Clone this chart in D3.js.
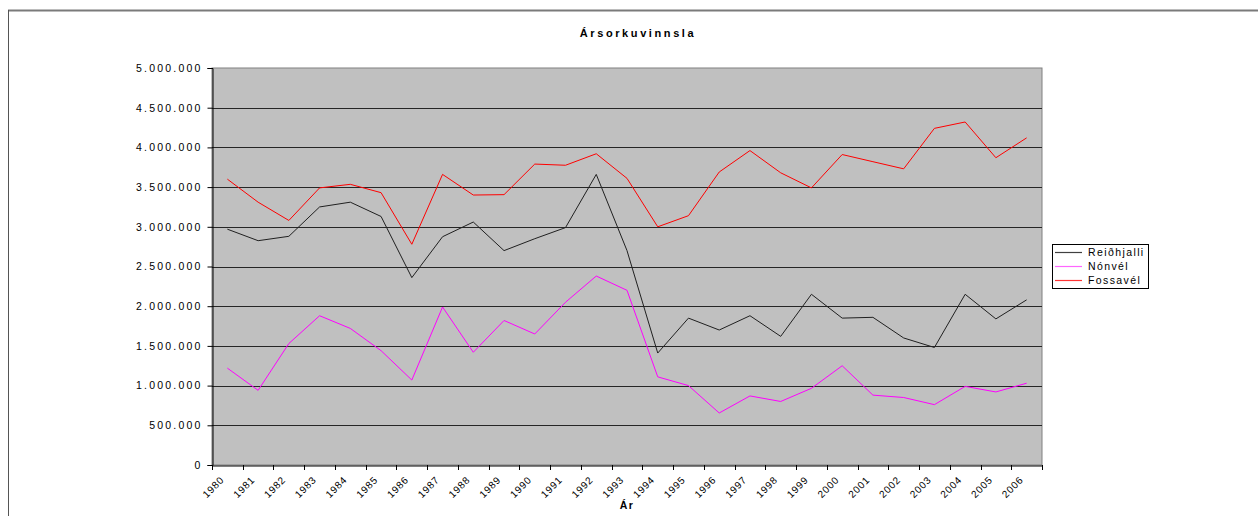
<!DOCTYPE html>
<html>
<head>
<meta charset="utf-8">
<script src="https://cdn.jsdelivr.net/npm/d3@7"></script>
<style>
  html, body { margin: 0; padding: 0; background: #fff; }
  svg { display: block; }
  text { font-family: "Liberation Sans", Arial, sans-serif; fill: #000; }
</style>
</head>
<body>
<svg id="chart" width="1258" height="516"></svg>
<script>
const years = ["1980","1981","1982","1983","1984","1985","1986","1987","1988","1989","1990","1991","1992","1993","1994","1995","1996","1997","1998","1999","2000","2001","2002","2003","2004","2005","2006"];
const reidhjalli = [2970000,2825000,2880000,3250000,3310000,3130000,2360000,2875000,3060000,2700000,2850000,2990000,3660000,2700000,1410000,1850000,1700000,1880000,1620000,2150000,1850000,1860000,1600000,1480000,2150000,1840000,2080000];
const nonvel = [1220000,940000,1530000,1880000,1720000,1440000,1070000,1990000,1420000,1820000,1650000,2050000,2380000,2200000,1110000,1000000,655000,870000,800000,966000,1250000,880000,850000,760000,990000,920000,1030000];
const fossavel = [3600000,3310000,3080000,3490000,3535000,3430000,2780000,3660000,3400000,3405000,3790000,3775000,3920000,3610000,3000000,3140000,3690000,3960000,3680000,3490000,3910000,3820000,3730000,4240000,4320000,3870000,4120000];
const yTicks = [0,500000,1000000,1500000,2000000,2500000,3000000,3500000,4000000,4500000,5000000];
const seriesNames = ["Reiðhjalli","Nónvél","Fossavél"];
const seriesColors = ["#202020","#ff00ff","#ff0000"];
const legendColors = ["#404040","#ff66ff","#ff3333"];
const title = "Ársorkuvinnsla";
const xTitle = "Ár";

const svg = d3.select("#chart");
const L = 212, R = 1042, T = 68, B = 465;

// outer frame
svg.append("line").attr("x1", 8).attr("x2", 1258).attr("y1", 10.5).attr("y2", 10.5)
  .attr("stroke", "#7a7a7a").attr("stroke-width", 2);
svg.append("line").attr("x1", 8.5).attr("x2", 8.5).attr("y1", 10).attr("y2", 516)
  .attr("stroke", "#555").attr("stroke-width", 1);

const x = d3.scaleBand().domain(years).range([L, R]).padding(0);
const y = d3.scaleLinear().domain([0, 5000000]).range([B, T]);

// plot background
svg.append("rect").attr("x", L).attr("y", T).attr("width", R - L).attr("height", B - T)
  .attr("fill", "#c0c0c0").attr("stroke", "#808080").attr("stroke-width", 1);

// gridlines
svg.append("g").selectAll("line").data(yTicks.filter(v => v > 0 && v < 5000000)).join("line")
  .attr("x1", L).attr("x2", R)
  .attr("y1", d => Math.round(y(d)) + 0.5).attr("y2", d => Math.round(y(d)) + 0.5)
  .attr("stroke", "#262626").attr("stroke-width", 1);

// y axis
const fmt = d => d3.format(",")(d).replace(/,/g, ".");
const yAxis = d3.axisLeft(y).tickValues(yTicks).tickFormat(fmt).tickSize(5).tickPadding(7);
const gy = svg.append("g").attr("transform", `translate(${L + 0.5},0)`).call(yAxis);
gy.select(".domain").attr("stroke", "#000");
gy.selectAll(".tick line").attr("stroke", "#000");
gy.selectAll(".tick text").attr("font-size", "10.5px").attr("letter-spacing", "2.2px")
  .attr("font-family", "Liberation Sans, Arial, sans-serif").attr("fill", "#222")
  .attr("dx", "2px");

// x axis
const xAxis = d3.axisBottom(x).tickSize(0).tickFormat("");
const gx = svg.append("g").attr("transform", `translate(0,${B + 0.5})`).call(xAxis);
gx.select(".domain").attr("stroke", "#000");
gx.selectAll(".tick").remove();
// ticks at band boundaries
const bounds = years.map(d => x(d)).concat([R]);
svg.append("g").selectAll("line").data(bounds).join("line")
  .attr("x1", d => Math.round(d) + 0.5).attr("x2", d => Math.round(d) + 0.5)
  .attr("y1", B).attr("y2", B + 5).attr("stroke", "#000");
// rotated labels
svg.append("g").selectAll("text").data(years).join("text")
  .attr("transform", d => `translate(${x(d) + x.bandwidth() / 2 - 5},${B + 13}) rotate(-45)`)
  .attr("text-anchor", "end").attr("font-size", "10px").attr("letter-spacing", "0.8px")
  .attr("dy", "0.35em").attr("fill", "#222")
  .text(d => d);

// lines
const series = [reidhjalli, nonvel, fossavel];
const line = d3.line().x((d, i) => x(years[i]) + x.bandwidth() / 2).y(d => y(d));
series.forEach((s, k) => {
  svg.append("path").datum(s).attr("d", line).attr("fill", "none")
    .attr("stroke", seriesColors[k]).attr("stroke-width", 1);
});

// title
svg.append("text").attr("x", 638).attr("y", 37).attr("text-anchor", "middle")
  .attr("font-size", "11px").attr("font-weight", "bold").attr("letter-spacing", "2.6px")
  .text(title);

// x title
svg.append("text").attr("x", 627).attr("y", 509).attr("text-anchor", "middle")
  .attr("font-size", "10.5px").attr("font-weight", "bold").attr("letter-spacing", "1.5px")
  .text(xTitle);

// legend
const lg = svg.append("g");
lg.append("rect").attr("x", 1052.5).attr("y", 244.5).attr("width", 96).attr("height", 44)
  .attr("fill", "#fff").attr("stroke", "#000").attr("stroke-width", 1);
const rowsY = [252, 266, 280];
seriesNames.forEach((n, i) => {
  lg.append("line").attr("x1", 1055).attr("x2", 1082)
    .attr("y1", rowsY[i] + 0.5).attr("y2", rowsY[i] + 0.5)
    .attr("stroke", legendColors[i]).attr("stroke-width", 1.2);
  lg.append("text").attr("x", 1088).attr("y", rowsY[i]).attr("dy", "0.36em")
    .attr("font-size", "10.5px").attr("letter-spacing", "1.4px").attr("fill", "#222")
    .text(n);
});
</script>
</body>
</html>
